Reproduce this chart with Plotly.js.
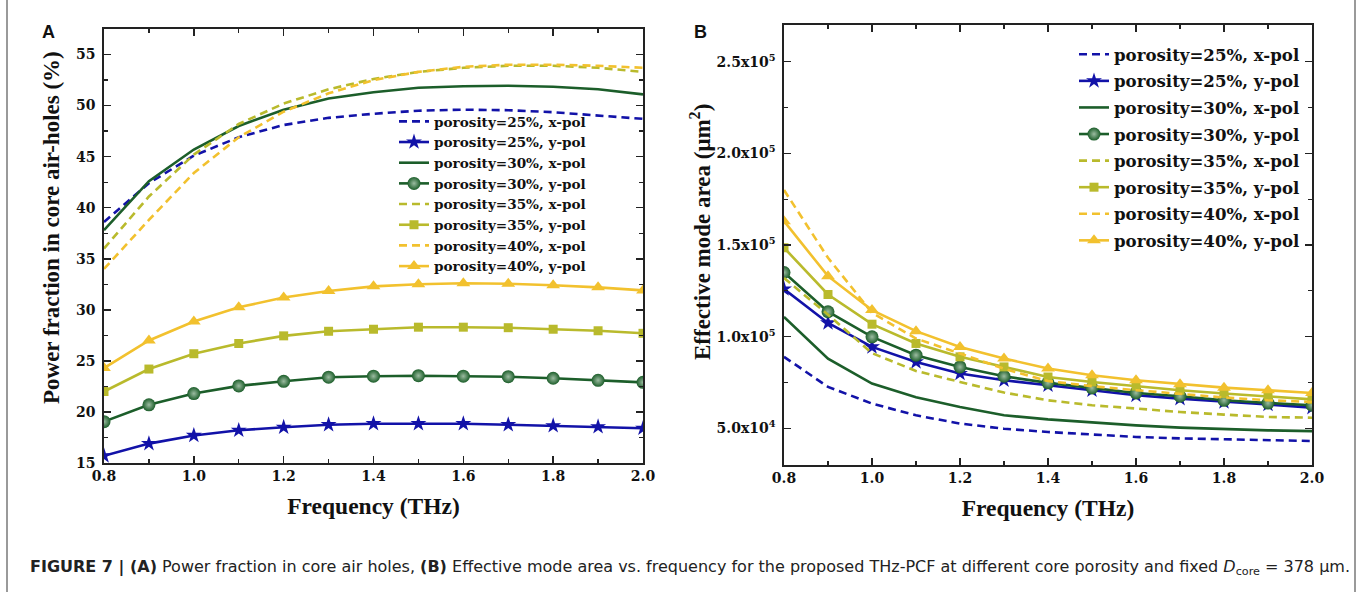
<!DOCTYPE html>
<html>
<head>
<meta charset="utf-8">
<script src="https://cdn.plot.ly/plotly-3.0.1.min.js"></script>
<style>
html,body{margin:0;padding:0;background:#fff;}
#chart{width:1360px;height:592px;}
</style>
</head>
<body>
<div id="chart"></div>
<script>
// ---- data ----
var freq = [0.8, 0.9, 1.0, 1.1, 1.2, 1.3, 1.4, 1.5, 1.6, 1.7, 1.8, 1.9, 2.0];
var freqTicks = [0.8, 1.0, 1.2, 1.4, 1.6, 1.8, 2.0];
var freqTickText = ["0.8", "1.0", "1.2", "1.4", "1.6", "1.8", "2.0"];

var seriesNames = [
  "porosity=25%, x-pol", "porosity=25%, y-pol",
  "porosity=30%, x-pol", "porosity=30%, y-pol",
  "porosity=35%, x-pol", "porosity=35%, y-pol",
  "porosity=40%, x-pol", "porosity=40%, y-pol"
];

// Panel A: power fraction in core air-holes (%)
var pfX25 = [38.6, 42.4, 45.1, 46.9, 48.1, 48.8, 49.2, 49.5, 49.6, 49.55, 49.35, 49.0, 48.7];
var pfY25 = [15.7, 16.9, 17.7, 18.2, 18.5, 18.75, 18.85, 18.85, 18.85, 18.75, 18.65, 18.55, 18.4];
var pfX30 = [37.8, 42.6, 45.7, 48.0, 49.6, 50.7, 51.3, 51.75, 51.9, 51.95, 51.85, 51.6, 51.1];
var pfY30 = [19.05, 20.7, 21.8, 22.55, 23.0, 23.4, 23.5, 23.55, 23.5, 23.45, 23.3, 23.1, 22.9];
var pfX35 = [36.0, 41.1, 45.2, 48.2, 50.2, 51.6, 52.6, 53.3, 53.7, 53.9, 53.9, 53.7, 53.3];
var pfY35 = [22.0, 24.2, 25.7, 26.7, 27.45, 27.9, 28.1, 28.3, 28.3, 28.25, 28.1, 27.95, 27.7];
var pfX40 = [34.0, 38.8, 43.4, 46.9, 49.4, 51.2, 52.5, 53.3, 53.8, 54.0, 54.0, 53.9, 53.7];
var pfY40 = [24.3, 27.0, 28.85, 30.25, 31.2, 31.85, 32.3, 32.5, 32.6, 32.55, 32.4, 32.2, 31.9];

// Panel B: effective mode area (um^2)
var aeX25 = [89000, 72600, 63500, 57100, 52600, 49800, 48000, 46600, 45300, 44500, 44000, 43400, 43100];
var aeY25 = [126000, 107500, 94400, 86200, 79900, 76200, 73500, 70800, 68000, 66200, 64400, 63000, 61300];
var aeX30 = [110800, 88000, 74400, 67000, 61600, 57100, 54900, 53100, 51600, 50400, 49500, 48900, 48500];
var aeY30 = [135000, 113600, 99900, 89900, 83500, 78400, 74800, 72000, 69300, 67500, 65300, 63800, 62600];
var aeX35 = [132000, 112000, 91000, 81300, 75300, 69500, 65300, 62600, 60800, 58900, 57500, 56200, 55800];
var aeY35 = [148500, 123000, 106800, 96300, 89000, 83500, 78000, 75300, 73000, 70800, 69000, 67500, 65800];
var aeX40 = [180000, 143000, 113000, 99000, 90800, 82500, 75800, 73000, 70800, 68600, 66800, 65300, 64400];
var aeY40 = [163000, 133000, 114500, 103000, 94400, 88100, 82600, 79000, 76200, 74000, 72200, 70800, 69300];

var aeTickVals = [50000, 100000, 150000, 200000, 250000];
var aeTickText = ["5.0x10<sup>4</sup>", "1.0x10<sup>5</sup>", "1.5x10<sup>5</sup>", "2.0x10<sup>5</sup>", "2.5x10<sup>5</sup>"];

// ---- styles ----
var cBlue = "#1212a8", cGreen = "#1c5e2a", cOlive = "#b9ba2c", cYellow = "#f2c12e";
var dashPat = "8px,5px";
var styles = [
  {color: cBlue, dash: dashPat, marker: null},
  {color: cBlue, dash: "solid", marker: {symbol: "star", size: 12}},
  {color: cGreen, dash: "solid", marker: null},
  {color: cGreen, dash: "solid", marker: {symbol: "circle", size: 13, gradient: {type: "radial", color: "#9cbca1"}}},
  {color: cOlive, dash: dashPat, marker: null},
  {color: cOlive, dash: "solid", marker: {symbol: "square", size: 9}},
  {color: cYellow, dash: dashPat, marker: null},
  {color: cYellow, dash: "solid", marker: {symbol: "triangle-up", size: 12}}
];

var dataA = [pfX25, pfY25, pfX30, pfY30, pfX35, pfY35, pfX40, pfY40];
var dataB = [aeX25, aeY25, aeX30, aeY30, aeX35, aeY35, aeX40, aeY40];

function makeTrace(ys, i, xa, ya, leg, grp) {
  var s = styles[i];
  var t = {
    x: freq, y: ys, name: seriesNames[i], type: "scatter",
    mode: s.marker ? "lines+markers" : "lines",
    line: {color: s.color, width: 2.6, dash: s.dash},
    xaxis: xa, yaxis: ya, legend: leg, legendgroup: grp + i,
    hoverinfo: "x+y+name"
  };
  if (s.marker) {
    t.marker = Object.assign({color: s.color, line: {width: 0}}, s.marker);
  }
  return t;
}

var traces = [];
dataA.forEach(function (d, i) { traces.push(makeTrace(d, i, "x", "y", "legend", "a")); });
dataB.forEach(function (d, i) { traces.push(makeTrace(d, i, "x2", "y2", "legend2", "b")); });

var tickFont = {family: "DejaVu Serif", size: 14, color: "#111", weight: 700};
var titleFont = {family: "Liberation Serif", size: 23.5, color: "#111", weight: 700};
var yTitleFont = {family: "Liberation Serif", size: 23, color: "#111", weight: 700};

function xAxis(domain, anchor) {
  return {
    domain: domain, anchor: anchor, range: [0.8, 2.0],
    tickvals: freqTicks, ticktext: freqTickText,
    ticks: "inside", ticklen: 7, tickwidth: 1.5, tickcolor: "#222",
    minor: {tickvals: freq, ticks: "inside", ticklen: 4, tickwidth: 1.3, tickcolor: "#222"},
    showline: true, linewidth: 1.6, linecolor: "#222", mirror: "allticks",
    showgrid: false, zeroline: false, tickfont: tickFont,
    title: {text: "Frequency (THz)", font: titleFont, standoff: 14}
  };
}

var layout = {
  width: 1360, height: 592,
  margin: {l: 0, r: 0, t: 0, b: 0},
  paper_bgcolor: "#fff", plot_bgcolor: "#fff",
  showlegend: true,
  xaxis: xAxis([104 / 1360, 643 / 1360], "y"),
  yaxis: {
    domain: [1 - 463 / 592, 1 - 29 / 592], anchor: "x", range: [15, 57.5],
    tickvals: [15, 20, 25, 30, 35, 40, 45, 50, 55],
    ticks: "inside", ticklen: 7, tickwidth: 1.5, tickcolor: "#222",
    minor: {dtick: 2.5, ticks: "inside", ticklen: 4, tickwidth: 1.3, tickcolor: "#222"},
    showline: true, linewidth: 1.6, linecolor: "#222", mirror: "allticks",
    showgrid: false, zeroline: false, tickfont: tickFont, ticklabelstandoff: 4
  },
  xaxis2: xAxis([784 / 1360, 1312 / 1360], "y2"),
  yaxis2: {
    domain: [1 - 465 / 592, 1 - 25 / 592], anchor: "x2", range: [30000, 270000],
    tickvals: aeTickVals, ticktext: aeTickText,
    ticks: "inside", ticklen: 7, tickwidth: 1.5, tickcolor: "#222",
    minor: {dtick: 25000, ticks: "inside", ticklen: 4, tickwidth: 1.3, tickcolor: "#222"},
    showline: true, linewidth: 1.6, linecolor: "#222", mirror: "allticks",
    showgrid: false, zeroline: false, tickfont: tickFont, ticklabelstandoff: 4
  },
  legend: {
    x: 394 / 1360, y: 1 - 106 / 592, xanchor: "left", yanchor: "top",
    bgcolor: "rgba(0,0,0,0)", borderwidth: 0, traceorder: "grouped", tracegroupgap: 0,
    font: {family: "DejaVu Serif", size: 13.6, color: "#111", weight: 700}
  },
  legend2: {
    x: 1074 / 1360, y: 1 - 37 / 592, xanchor: "left", yanchor: "top",
    bgcolor: "rgba(0,0,0,0)", borderwidth: 0, traceorder: "grouped", tracegroupgap: 2,
    font: {family: "DejaVu Serif", size: 16.6, color: "#111", weight: 700}
  },
  annotations: [
    {text: "A", x: 48 / 1360, y: 1 - 32 / 592, xref: "paper", yref: "paper", xanchor: "center", yanchor: "middle",
     showarrow: false, font: {family: "Liberation Sans", size: 18, color: "#111", weight: 700}},
    {text: "B", x: 701 / 1360, y: 1 - 32 / 592, xref: "paper", yref: "paper", xanchor: "center", yanchor: "middle",
     showarrow: false, font: {family: "Liberation Sans", size: 18, color: "#111", weight: 700}},
    {text: "Power fraction in core air-holes (%)", textangle: -90,
     x: 52 / 1360, y: 1 - 228 / 592, xref: "paper", yref: "paper", xanchor: "center", yanchor: "middle",
     showarrow: false, font: yTitleFont},
    {text: "Effective mode area (μm<sup>2</sup>)", textangle: -90,
     x: 700 / 1360, y: 1 - 232 / 592, xref: "paper", yref: "paper", xanchor: "center", yanchor: "middle",
     showarrow: false, font: yTitleFont},
    {text: "<b>FIGURE 7 | (A)</b> Power fraction in core air holes, <b>(B)</b> Effective mode area vs. frequency for the proposed THz-PCF at different core porosity and fixed <i>D</i><sub>core</sub> = 378 μm.",
     x: 28 / 1360, y: 1 - 567 / 592, xref: "paper", yref: "paper", xanchor: "left", yanchor: "middle",
     showarrow: false, font: {family: "DejaVu Sans", size: 16, color: "#222"}}
  ],
  shapes: [
    {type: "line", xref: "paper", yref: "paper", x0: 7 / 1360, x1: 7 / 1360, y0: 0, y1: 1, line: {color: "#9a9a9a", width: 2}},
    {type: "line", xref: "paper", yref: "paper", x0: 1355 / 1360, x1: 1355 / 1360, y0: 0, y1: 1, line: {color: "#9a9a9a", width: 2}}
  ]
};

Plotly.newPlot("chart", traces, layout, {displayModeBar: false, staticPlot: true});
</script>
</body>
</html>
